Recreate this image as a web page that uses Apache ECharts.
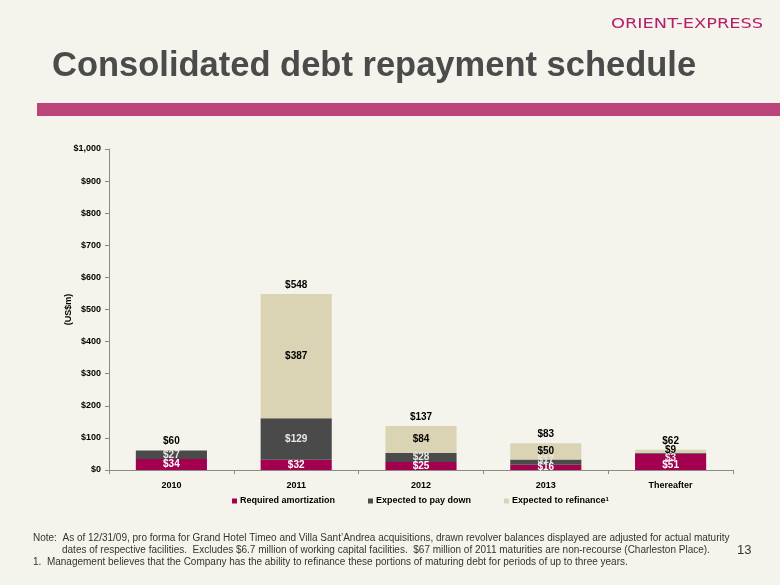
<!DOCTYPE html>
<html><head><meta charset="utf-8">
<script src="https://cdn.jsdelivr.net/npm/echarts@6/dist/echarts.min.js"></script>
<style>html,body{margin:0;padding:0;background:#f5f4ec}#c{width:780px;height:585px}</style>
</head><body><div id="c"></div>
<script>
var categories = ['2010', '2011', '2012', '2013', 'Thereafter'];
var requiredAmortization = [34, 32, 25, 16, 51];
var expectedPayDown = [27, 129, 28, 17, 3];
var expectedRefinance = [0, 387, 84, 50, 9];
var totals = [60, 548, 137, 83, 62];
var yTicks = [0, 100, 200, 300, 400, 500, 600, 700, 800, 900, 1000];

var RED = '#a3004f', GRAY = '#4a4a4a', BEIGE = '#dad4b4';
var FONT = 'Liberation Sans';
var chart = echarts.init(document.getElementById('c'));
var fmt = function (v) { return '$' + v.toLocaleString('en-US'); };

function segData(vals, offsets) {
  return vals.map(function (v, i) {
    var o = { value: v };
    if (offsets && offsets[i]) o.label = { offset: [0, offsets[i]] };
    return o;
  });
}

var baseLabel = { show: true, fontFamily: FONT, fontWeight: 700, fontSize: 10,
  formatter: function (p) { return p.value > 0 ? fmt(p.value) : ''; } };

chart.setOption({
  backgroundColor: '#f5f4ec',
  animation: false,
  grid: { left: 109, right: 47, top: 149, bottom: 115 },
  legend: {
    left: 227, top: 491, itemWidth: 5, itemHeight: 5, itemGap: 33, icon: 'rect',
    textStyle: { fontFamily: FONT, fontWeight: 700, fontSize: 9, color: '#000', padding: [0,0,0,-2],
      rich: { sup: { fontSize: 6, fontWeight: 700, verticalAlign: 'top', padding: [0,0,4,0] } } },
    formatter: function (n) { return n === 'Expected to refinance' ? n + '{sup|1}' : n; },
    data: ['Required amortization', 'Expected to pay down', 'Expected to refinance']
  },
  xAxis: {
    type: 'category', data: categories,
    axisLine: { lineStyle: { color: '#8a8a8a' } },
    axisTick: { show: true, alignWithLabel: false, length: 4, lineStyle: { color: '#8a8a8a' } },
    axisLabel: { color: '#000', fontFamily: FONT, fontWeight: 700, fontSize: 9, margin: 11 }
  },
  yAxis: {
    type: 'value', min: 0, max: 1000, interval: 100,
    name: '(US$m)', nameLocation: 'middle', nameGap: 36, nameMoveOverlap: false,
    nameTextStyle: { fontFamily: FONT, fontWeight: 700, fontSize: 9, color: '#000' },
    axisLine: { show: true, lineStyle: { color: '#8a8a8a' } },
    axisTick: { show: true, length: 4, lineStyle: { color: '#8a8a8a' } },
    splitLine: { show: false },
    axisLabel: { color: '#000', fontFamily: FONT, fontWeight: 700, fontSize: 9, margin: 8,
      formatter: function (v) { return yTicks.indexOf(v) >= 0 ? fmt(v) : ''; } }
  },
  series: [
    { name: 'Required amortization', type: 'bar', stack: 'd', barWidth: '57%', itemStyle: { color: RED },
      label: Object.assign({}, baseLabel, { position: 'inside', color: '#fff' }),
      data: segData(requiredAmortization, [0, 0, 0, 0, 3]) },
    { name: 'Expected to pay down', type: 'bar', stack: 'd', itemStyle: { color: GRAY },
      label: Object.assign({}, baseLabel, { position: 'inside', color: '#e8e8e8' }),
      data: segData(expectedPayDown, [0, 0, 0, -2, 5]) },
    { name: 'Expected to refinance', type: 'bar', stack: 'd', itemStyle: { color: BEIGE },
      label: Object.assign({}, baseLabel, { position: 'inside', color: '#000' }),
      data: segData(expectedRefinance, [0, 0, 0, 0, -1]) },
    { name: 'Total', type: 'scatter', symbolSize: 0, silent: true,
      itemStyle: { opacity: 1 },
      label: { show: true, position: 'top', distance: 4, color: '#000', fontFamily: FONT, fontWeight: 700, fontSize: 10,
        formatter: function (p) { return fmt(p.value); } },
      emphasis: { disabled: true },
      data: totals }
  ],
  graphic: [
    { type: 'text', left: 611, top: 17, scaleX: 1.27, originX: 0, style: { text: 'ORIENT-EXPRESS', fontFamily: 'DejaVu Sans', fontSize: 14, fontWeight: 'normal', fill: '#b5206b' } },
    { type: 'text', left: 52, top: 49, style: { text: 'Consolidated debt repayment schedule', fontFamily: FONT, fontSize: 34.5, fontWeight: 700, fill: '#4b4b4b' } },
    { type: 'rect', shape: { x: 37, y: 103, width: 743, height: 13 }, style: { fill: '#bb457a' } },
    { type: 'text', left: 33, top: 533, style: { text: 'Note:  As of 12/31/09, pro forma for Grand Hotel Timeo and Villa Sant\u2019Andrea acquisitions, drawn revolver balances displayed are adjusted for actual maturity', fontFamily: 'Liberation Sans Narrow, Liberation Sans', fontSize: 10, fill: '#333' } },
    { type: 'text', left: 62, top: 545, style: { text: 'dates of respective facilities.  Excludes $6.7 million of working capital facilities.  $67 million of 2011 maturities are non-recourse (Charleston Place).', fontFamily: 'Liberation Sans Narrow, Liberation Sans', fontSize: 10, fill: '#333' } },
    { type: 'text', left: 33, top: 557, style: { text: '1.  Management believes that the Company has the ability to refinance these portions of maturing debt for periods of up to three years.', fontFamily: 'Liberation Sans Narrow, Liberation Sans', fontSize: 10, fill: '#333' } },
    { type: 'text', left: 737, top: 544, style: { text: '13', fontFamily: 'Liberation Sans Narrow, Liberation Sans', fontSize: 13, fill: '#333' } }
  ]
});
</script></body></html>
